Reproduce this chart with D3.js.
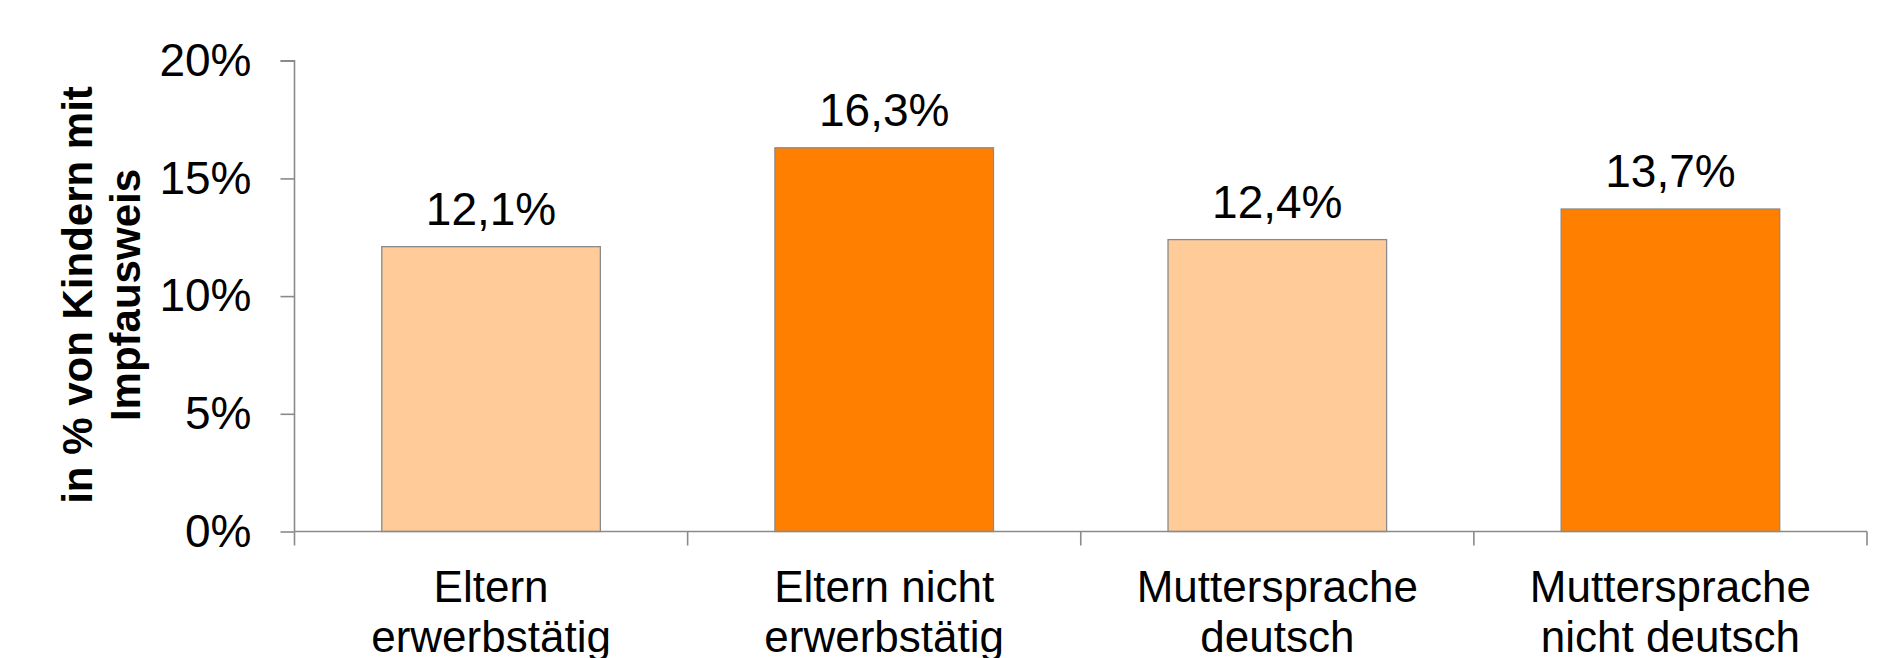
<!DOCTYPE html>
<html>
<head>
<meta charset="utf-8">
<script src="https://cdn.jsdelivr.net/npm/d3@7"></script>
<style>
  html, body { margin: 0; padding: 0; background: #fff; }
  svg { display: block; }
  text { font-family: "Liberation Sans", Arial, sans-serif; fill: #000; }
</style>
</head>
<body>
<svg id="chart" width="1891" height="658"></svg>
<script>
const categories = [
  ["Eltern", "erwerbstätig"],
  ["Eltern nicht", "erwerbstätig"],
  ["Muttersprache", "deutsch"],
  ["Muttersprache", "nicht deutsch"]
];
const values = [12.1, 16.3, 12.4, 13.7];
const valueLabels = ["12,1%", "16,3%", "12,4%", "13,7%"];
const yTicks = [0, 5, 10, 15, 20];
const yTickLabels = ["0%", "5%", "10%", "15%", "20%"];
const barColors = ["#FFCC99", "#FF8000", "#FFCC99", "#FF8000"];
const yTitle = ["in % von Kindern mit", "Impfausweis"];

const svg = d3.select("#chart");
const mLeft = 294.5, mRight = 1867, mTop = 60.7, mBottom = 531.5;

const keys = categories.map((c, i) => i);
const x = d3.scaleBand().domain(keys).range([mLeft, mRight]).paddingInner(0.444).paddingOuter(0.222);
const y = d3.scaleLinear().domain([0, 20]).range([mBottom, mTop]);

// bars
svg.append("g").selectAll("rect").data(values).join("rect")
  .attr("x", (d, i) => x(i))
  .attr("y", d => y(d))
  .attr("width", x.bandwidth())
  .attr("height", d => y(0) - y(d))
  .attr("fill", (d, i) => barColors[i])
  .attr("stroke", "#8a8a8a")
  .attr("stroke-width", 1.3);

// y axis
const yAxis = d3.axisLeft(y).tickValues(yTicks).tickSize(14).tickPadding(29)
  .tickFormat((d, i) => yTickLabels[i]);
const gy = svg.append("g").attr("transform", `translate(${mLeft},0)`).call(yAxis);
gy.select(".domain").attr("stroke", "#8a8a8a").attr("stroke-width", 1.6)
  .attr("d", `M-14,${mTop}H0V${mBottom}`);
gy.selectAll(".tick line").attr("stroke", "#8a8a8a").attr("stroke-width", 1.6);
gy.selectAll(".tick text").attr("font-size", 46).attr("font-family", '"Liberation Sans", Arial, sans-serif').attr("fill", "#000");

// x axis: ticks at band boundaries
const step = x.step();
const boundaries = d3.range(categories.length + 1).map(i => mLeft + i * step);
const gx = svg.append("g");
gx.append("line").attr("x1", mLeft).attr("x2", mRight).attr("y1", mBottom).attr("y2", mBottom)
  .attr("stroke", "#8a8a8a").attr("stroke-width", 1.6);
gx.selectAll("line.tk").data(boundaries).join("line").attr("class", "tk")
  .attr("x1", d => d).attr("x2", d => d).attr("y1", mBottom).attr("y2", mBottom + 14)
  .attr("stroke", "#8a8a8a").attr("stroke-width", 1.6);

// category labels
const cl = svg.append("g").selectAll("text").data(categories).join("text")
  .attr("text-anchor", "middle").attr("font-size", 44)
  .attr("x", (d, i) => x(i) + x.bandwidth() / 2)
  .attr("y", 601.5);
cl.each(function(d, i) {
  const t = d3.select(this);
  d.forEach((line, j) => {
    t.append("tspan").attr("x", x(i) + x.bandwidth() / 2).attr("dy", j === 0 ? 0 : 50).text(line);
  });
});

// value labels
svg.append("g").selectAll("text").data(values).join("text")
  .attr("text-anchor", "middle").attr("font-size", 46)
  .attr("x", (d, i) => x(i) + x.bandwidth() / 2)
  .attr("y", d => y(d) - 22)
  .text((d, i) => valueLabels[i]);

// y title
const yt = svg.append("text").attr("transform", "translate(91.5,295) rotate(-90)")
  .attr("text-anchor", "middle").attr("font-size", 42).attr("font-weight", "bold");
yTitle.forEach((line, j) => {
  yt.append("tspan").attr("x", 0).attr("y", j * 48).text(line);
});
</script>
</body>
</html>
